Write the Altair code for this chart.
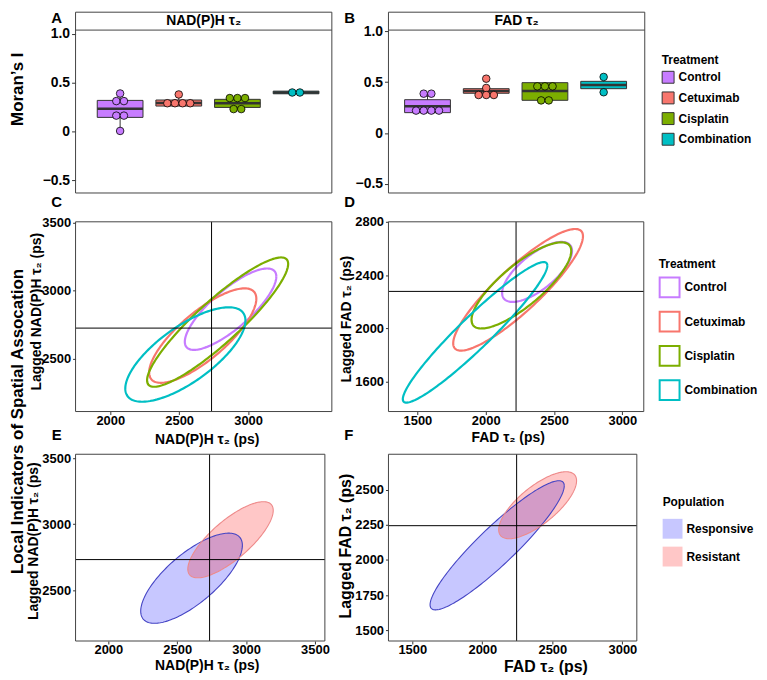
import numpy as np
import pandas as pd
import altair as alt

FONT = "Liberation Sans"

treatments = ["Control", "Cetuximab", "Cisplatin", "Combination"]
treat_colors = ["#C77CFF", "#F8766D", "#7CAE00", "#00BFC4"]
populations = ["Responsive", "Resistant"]
pop_fill = ["#0000FF", "#FF0000"]
pop_line = ["#4444C4", "#EE8A8A"]

# ---- Panel A: Moran's I, NAD(P)H tau2 (box stats per treatment)
a_q1 = [0.145, 0.261, 0.247, 0.387]
a_med = [0.234, 0.292, 0.290, 0.400]
a_q3 = [0.319, 0.323, 0.330, 0.414]
a_lo = [0.006, 0.261, 0.230, 0.400]
a_hi = [0.390, 0.380, 0.343, 0.400]
a_dot_treat = ["Control", "Control", "Control", "Control", "Cetuximab", "Cetuximab",
               "Cisplatin", "Cisplatin", "Combination"]
a_dot_val = [0.390, 0.312, 0.163, 0.006, 0.380, 0.290, 0.343, 0.230, 0.400]
a_dot_n = [1, 2, 2, 1, 1, 4, 3, 2, 2]

# ---- Panel B: Moran's I, FAD tau2
b_q1 = [0.200, 0.390, 0.321, 0.435]
b_med = [0.262, 0.412, 0.412, 0.471]
b_q3 = [0.327, 0.435, 0.494, 0.507]
b_lo = [0.220, 0.373, 0.320, 0.400]
b_hi = [0.386, 0.442, 0.458, 0.507]
b_dot_treat = ["Control", "Control", "Cetuximab", "Cetuximab", "Cetuximab",
               "Cisplatin", "Cisplatin", "Combination", "Combination"]
b_dot_val = [0.386, 0.220, 0.533, 0.442, 0.373, 0.458, 0.320, 0.550, 0.400]
b_dot_n = [2, 4, 1, 1, 3, 3, 2, 1, 1]

# ---- Panel C: LISA ellipses NAD(P)H (center, half-extent x/y, correlation)
c_cx = [2873, 2671, 2779, 2545]
c_cy = [2865, 2671, 2770, 2532]
c_rx = [332, 389, 512, 436]
c_ry = [299, 347, 475, 347]
c_r = [0.80, 0.78, 0.90, 0.72]
c_vline = [2735]
c_hline = [2726]

# ---- Panel D: LISA ellipses FAD
d_cx = [2376, 2237, 2261, 1922]
d_cy = [2424, 2290, 2323, 1971]
d_rx = [256, 475, 365, 529]
d_ry = [225, 456, 323, 527]
d_r = [0.70, 0.88, 0.80, 0.95]
d_vline = [2222]
d_hline = [2278]

# ---- Panel E: populations NAD(P)H
e_cx = [2604, 2887]
e_cy = [2592, 2883]
e_rx = [369, 310]
e_ry = [341, 288]
e_r = [0.73, 0.77]
e_vline = [2735]
e_hline = [2733]

# ---- Panel F: populations FAD
f_cx = [2106, 2395]
f_cy = [2105, 2391]
f_rx = [479, 278]
f_ry = [461, 239]
f_r = [0.92, 0.73]
f_vline = [2245]
f_hline = [2245]

BOX_HALF = 0.39
DOT_STEP = 0.13
ONE = pd.DataFrame({"k": [0]})


def frame(W, H, top=0):
    return alt.Chart(ONE).mark_rect(fill="transparent", stroke="#444444", strokeWidth=1).encode(
        x=alt.value(0), x2=alt.value(W), y=alt.value(top), y2=alt.value(H))


def label(txt, x, y, size=15, angle=0):
    kw = dict(text=txt, font=FONT, fontSize=size, fontWeight="bold", align="center",
              baseline="middle", color="black")
    if angle:
        kw["angle"] = angle
    return alt.Chart(ONE).mark_text(**kw).encode(x=alt.value(x), y=alt.value(y))


def box_panel(q1, med, q3, lo, hi, dtreat, dval, dn, xdom, ydom, strip, letter, lx,
              ytitle, legend):
    W, H = 258, 182
    box = pd.DataFrame({"Treatment": treatments, "pos": [1, 2, 3, 4], "q1": q1, "med": med,
                        "q3": q3, "lo": lo, "hi": hi})
    box["left"] = box["pos"] - BOX_HALF
    box["right"] = box["pos"] + BOX_HALF
    rows = []
    for t, v, n in zip(dtreat, dval, dn):
        p = treatments.index(t) + 1
        for k in range(n):
            rows.append({"Treatment": t, "x": p + (k - (n - 1) / 2) * DOT_STEP, "v": v})
    dots = pd.DataFrame(rows)
    xs = alt.Scale(domain=xdom, nice=False, zero=False)
    ys = alt.Scale(domain=ydom, nice=False, zero=False)
    fs = alt.Scale(domain=treatments, range=treat_colors)
    yax_kw = dict(values=[-0.5, 0, 0.5, 1.0],
                  labelExpr="datum.value == 0 ? '0' : format(datum.value, '.1f')",
                  labelFontSize=14, tickSize=4, labelPadding=2)
    if ytitle:
        yax = alt.Axis(title=ytitle, titleX=-58, titleY=77, titleFontSize=17,
                       titleBaseline="middle", **yax_kw)
    else:
        yax = alt.Axis(title=None, **yax_kw)

    def X(f):
        return alt.X(f, type="quantitative", scale=xs, axis=None)

    def Y(f):
        return alt.Y(f, type="quantitative", scale=ys, axis=yax)

    base = alt.Chart(box)
    whisk = base.mark_rule(color="#333333", strokeWidth=1).encode(x=X("pos"), y=Y("lo"), y2="hi")
    rect = base.mark_rect(stroke="#333333", strokeWidth=1).encode(
        x=X("left"), x2="right", y=Y("q1"), y2="q3",
        fill=alt.Fill("Treatment:N", scale=fs, legend=legend))
    medl = base.mark_rule(color="#333333", strokeWidth=2.6).encode(x=X("left"), x2="right", y=Y("med"))
    pts = alt.Chart(dots).mark_circle(size=58, opacity=1, stroke="black", strokeWidth=0.8).encode(
        x=X("x"), y=Y("v"), fill=alt.Fill("Treatment:N", scale=fs, legend=legend))
    stripline = alt.Chart(ONE).mark_rule(color="#444444", strokeWidth=1).encode(
        x=alt.value(0), x2=alt.value(W), y=alt.value(18))
    return alt.layer(whisk, rect, medl, pts, stripline, frame(W, H),
                     label(strip, W / 2, 9, size=14), label(letter, lx, 5.5)).properties(
        width=W, height=H)


def outline_df(names, cx, cy, rx, ry, rr, n=181):
    t = np.linspace(0, 2 * np.pi, n)
    parts = []
    for nm, a, b, c, d, r in zip(names, cx, cy, rx, ry, rr):
        ph = np.arccos(r)
        parts.append(pd.DataFrame({"grp": nm, "i": np.arange(n), "x": a + c * np.cos(t),
                                   "y": b + d * np.cos(t - ph)}))
    return pd.concat(parts, ignore_index=True)


def fill_df(names, cx, cy, rx, ry, rr, n=121):
    s = np.linspace(0, np.pi, n)
    parts = []
    for nm, a, b, c, d, r in zip(names, cx, cy, rx, ry, rr):
        ph = np.arccos(r)
        parts.append(pd.DataFrame({"grp": nm, "x": a + c * np.cos(s),
                                   "yhi": b + d * np.cos(s - ph), "ylo": b + d * np.cos(s + ph)}))
    return pd.concat(parts, ignore_index=True)


def axes(xvals, yvals, xtitle, ytitle, xt, yt, xsize=14, ysize=14):
    xa = alt.Axis(values=xvals, format="d", title=xtitle, titleX=xt[0], titleY=xt[1],
                  titleFontSize=xsize, titleBaseline="middle", labelFontSize=13, tickSize=3,
                  labelPadding=0)
    ya = alt.Axis(values=yvals, format="d", title=ytitle, titleX=yt[0], titleY=yt[1],
                  titleFontSize=ysize, titleBaseline="middle", labelFontSize=13, tickSize=3,
                  labelPadding=2)
    return xa, ya


def ellipse_panel(W, H, top, xdom, ydom, xa, ya, names, cx, cy, rx, ry, rr, vline, hline,
                  stroke_scale, legend, fill_scale=None, fill_legend=None, extra=()):
    xs = alt.Scale(domain=xdom, nice=False, zero=False)
    ys = alt.Scale(domain=ydom, nice=False, zero=False)

    def X(f):
        return alt.X(f, type="quantitative", scale=xs, axis=xa)

    def Y(f):
        return alt.Y(f, type="quantitative", scale=ys, axis=ya)

    layers = []
    if fill_scale is not None:
        fd = fill_df(names, cx, cy, rx, ry, rr)
        layers.append(alt.Chart(fd).mark_area(opacity=0.22).encode(
            x=X("x"), y=alt.Y("yhi", type="quantitative", scale=ys, axis=ya, stack=False),
            y2="ylo", fill=alt.Fill("grp:N", scale=fill_scale, legend=fill_legend)))
        lw = 1.1
    else:
        lw = 2.2
    od = outline_df(names, cx, cy, rx, ry, rr)
    layers.append(alt.Chart(od).mark_line(strokeWidth=lw).encode(
        x=X("x"), y=Y("y"), order="i:Q",
        stroke=alt.Stroke("grp:N", scale=stroke_scale, legend=legend)))
    vdf = pd.DataFrame({"vx": vline})
    hdf = pd.DataFrame({"hy": hline})
    if top:
        layers.append(alt.Chart(vdf).mark_rule(color="black", strokeWidth=1).encode(
            x=X("vx"), y=alt.value(top), y2=alt.value(H)))
        layers.append(alt.Chart(hdf).mark_rule(color="black", strokeWidth=1).encode(
            y=Y("hy"), x=alt.value(0), x2=alt.value(W)))
    else:
        layers.append(alt.Chart(vdf).mark_rule(color="black", strokeWidth=1).encode(x=X("vx")))
        layers.append(alt.Chart(hdf).mark_rule(color="black", strokeWidth=1).encode(y=Y("hy")))
    layers.append(frame(W, H, top))
    layers.extend(extra)
    return alt.layer(*layers).properties(width=W, height=H)


treat_stroke = alt.Scale(domain=treatments, range=treat_colors)
pop_fill_scale = alt.Scale(domain=populations, range=pop_fill)
pop_line_scale = alt.Scale(domain=populations, range=pop_line)

legend_box = alt.Legend(title="Treatment", orient="none", legendX=275, legendY=43,
                        symbolType="square", symbolSize=144, symbolStrokeColor="#333333",
                        symbolStrokeWidth=1, rowPadding=3.8, titlePadding=4, labelOffset=4)
legend_line = alt.Legend(title="Treatment", orient="none", legendX=272, legendY=38,
                         symbolType="square", symbolSize=400, symbolStrokeWidth=2,
                         symbolFillColor="white", rowPadding=6.5, titlePadding=5, labelOffset=4)
legend_pop = alt.Legend(title="Population", orient="none", legendX=276, legendY=57,
                        symbolType="square", symbolSize=400, symbolStrokeWidth=0,
                        symbolOpacity=0.22, rowPadding=8, titlePadding=10, labelOffset=4)

A = box_panel(a_q1, a_med, a_q3, a_lo, a_hi, a_dot_treat, a_dot_val, a_dot_n,
              [0.24, 4.61], [-0.63, 1.223], "NAD(P)H τ₂", "A", -19, "Moran’s I", None)
B = box_panel(b_q1, b_med, b_q3, b_lo, b_hi, b_dot_treat, b_dot_val, b_dot_n,
              [0.335, 4.70], [-0.588, 1.185], "FAD τ₂", "B", -39, None, legend_box)

cxa, cya = axes([2000, 2500, 3000], [2500, 3000, 3500], "NAD(P)H τ₂ (ps)",
                "Lagged NAD(P)H τ₂ (ps)", (132, 28), (-39, 90))
C = ellipse_panel(258, 191, 0, [1748, 3608], [2113, 3507], cxa, cya, treatments,
                  c_cx, c_cy, c_rx, c_ry, c_r, c_vline, c_hline, treat_stroke, None,
                  extra=[label("C", -19, -19.5),
                         label("Local Indicators of Spatial Assocation", -58, 201, size=17,
                               angle=270)])

dxa, dya = axes([1500, 2000, 2500, 3000], [1600, 2000, 2400, 2800], "FAD τ₂ (ps)",
                "Lagged FAD τ₂ (ps)", (120, 26), (-42.5, 97.5))
D = ellipse_panel(257, 191, 0, [1288, 3157], [1377, 2800], dxa, dya, treatments,
                  d_cx, d_cy, d_rx, d_ry, d_r, d_vline, d_hline, treat_stroke, legend_line,
                  extra=[label("D", -39, -19.5)])

exa, eya = axes([2000, 2500, 3000, 3500], [2500, 3000, 3500], "NAD(P)H τ₂ (ps)",
                "Lagged NAD(P)H τ₂ (ps)", (132, 25), (-42, 101))
E = ellipse_panel(251, 202, 14, [1762, 3572], [2117, 3635], exa, eya, populations,
                  e_cx, e_cy, e_rx, e_ry, e_r, e_vline, e_hline, pop_line_scale, None,
                  fill_scale=pop_fill_scale, fill_legend=None,
                  extra=[label("E", -19, -5)])

fxa, fya = axes([1500, 2000, 2500, 3000], [1500, 1750, 2000, 2250, 2500], "FAD τ₂ (ps)",
                "Lagged FAD τ₂ (ps)", (158, 25.5), (-43.5, 106), xsize=16, ysize=16)
F = ellipse_panel(250, 202, 14, [1330, 3103], [1422, 2854], fxa, fya, populations,
                  f_cx, f_cy, f_rx, f_ry, f_r, f_vline, f_hline, pop_line_scale, None,
                  fill_scale=pop_fill_scale, fill_legend=legend_pop,
                  extra=[label("F", -40, -5)])

chart = alt.ConcatChart(
    concat=[A, B, C, D, E, F], columns=2, bounds="flush",
    spacing={"row": 29, "column": 57},
).resolve_scale(
    x="independent", y="independent", fill="independent", stroke="independent"
).resolve_legend(
    fill="independent", stroke="independent"
).properties(padding=0).configure(
    font=FONT
).configure_view(
    stroke="transparent"
).configure_axis(
    labelFont=FONT, titleFont=FONT, labelFontWeight="bold", titleFontWeight="bold",
    labelColor="black", titleColor="black", tickColor="#333333", domain=False, grid=False,
    labelFlush=False, labelOverlap=False
).configure_legend(
    titleFont=FONT, labelFont=FONT, titleFontSize=12, labelFontSize=12,
    titleFontWeight="bold", labelFontWeight="bold", titleColor="black", labelColor="black",
    padding=0
)

chart.save("out.html", embed_options={"renderer": "svg", "actions": False})
